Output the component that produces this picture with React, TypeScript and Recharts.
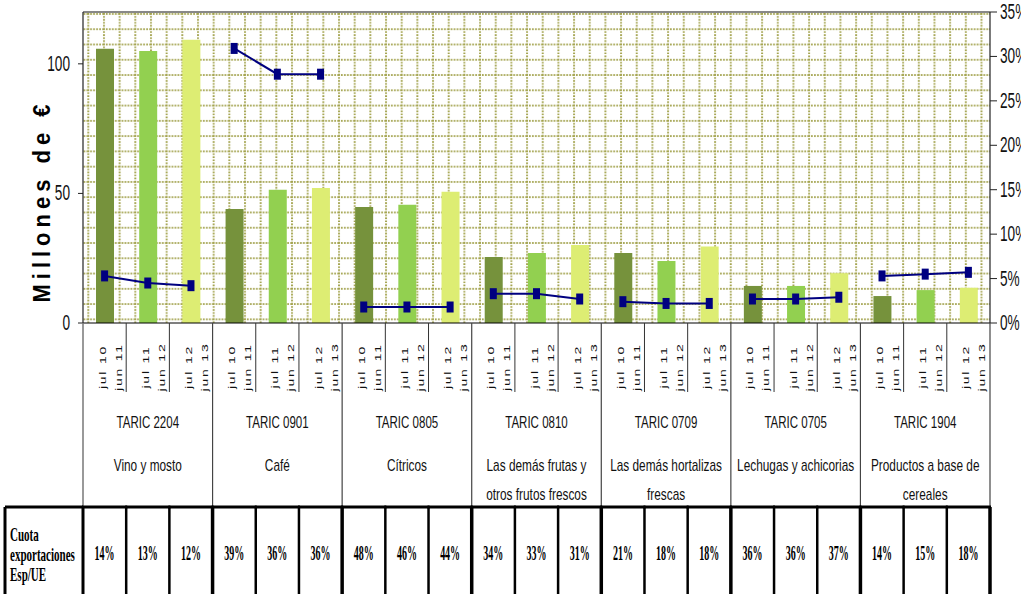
import React from 'react';
import { ComposedChart, Bar, Line, XAxis, YAxis, CartesianGrid, Cell, ReferenceLine } from 'recharts';

// ---------- data ----------
const groupCodes = ['TARIC 2204', 'TARIC 0901', 'TARIC 0805', 'TARIC 0810', 'TARIC 0709', 'TARIC 0705', 'TARIC 1904'];
const groupNames = [
  ['Vino y mosto'],
  ['Café'],
  ['Cítricos'],
  ['Las demás frutas y', 'otros frutos frescos'],
  ['Las demás hortalizas', 'frescas'],
  ['Lechugas y achicorias'],
  ['Productos a base de', 'cereales'],
];
const periodLabels = [
  ['jul 10', 'jun 11'],
  ['jul 11', 'jun 12'],
  ['jul 12', 'jun 13'],
];
// Millones de € (left axis)
const exportValues = [
  105.8, 105.0, 109.3,
  44.0, 51.4, 52.1,
  44.8, 45.6, 50.6,
  25.5, 27.0, 30.1,
  27.0, 23.9, 29.5,
  14.3, 14.3, 19.2,
  10.4, 12.7, 13.6,
];
// share (right axis)
const shareValues = [
  0.053, 0.045, 0.042,
  0.309, 0.28, 0.28,
  0.018, 0.018, 0.018,
  0.033, 0.033, 0.027,
  0.024, 0.022, 0.022,
  0.027, 0.027, 0.029,
  0.053, 0.055, 0.057,
];
const cuotaLabels = [
  '14%', '13%', '12%',
  '39%', '36%', '36%',
  '48%', '46%', '44%',
  '34%', '33%', '31%',
  '21%', '18%', '18%',
  '36%', '36%', '37%',
  '14%', '15%', '18%',
];
const leftTicks = [0, 50, 100];
const rightTicks = [0, 0.05, 0.1, 0.15, 0.2, 0.25, 0.3, 0.35];
const tableRowLabel = ['Cuota', 'exportaciones', 'Esp/UE'];

// ---------- styles / layout ----------
const periodColors = ['#76923C', '#92D050', '#DDED73'];
const lineColor = '#000080';
const SANS = "'Liberation Sans', Arial, sans-serif";
const SERIF = "'Liberation Serif', 'Times New Roman', serif";
const CHART_W = 1021;
const CHART_H = 594;
const PLOT_LEFT = 83;
const PLOT_RIGHT = 990;
const TABLE_DROP = 184;

const data = exportValues.map((v, i) => {
  const g = Math.floor(i / 3);
  const row: any = { key: 'c' + i, group: g, period: i % 3, value: v };
  row['g' + g] = shareValues[i];
  return row;
});

const SText = ({ x, y, sx, anchor = 'middle', children, ...rest }: any) => (
  <g transform={`translate(${x},${y}) scale(${sx},1)`}>
    <text x={0} y={0} textAnchor={anchor} {...rest}>{children}</text>
  </g>
);

const CategoryTick = (props: any) => {
  const { x, y, payload } = props;
  const i: number = payload.index;
  const half = typeof payload.offset === 'number' && payload.offset > 0
    ? payload.offset
    : (PLOT_RIGHT - PLOT_LEFT) / exportValues.length / 2;
  const left = x - half;
  const right = x + half;
  const p = i % 3;
  const g = Math.floor(i / 3);
  const tableTop = y + TABLE_DROP;
  const els: any[] = [];

  periodLabels[p].forEach((t, k) => {
    const tx = x + 1 + k * 16;
    const ty = y + 44;
    els.push(
      <text key={'p' + k} transform={`translate(${tx},${ty}) scale(0.7,1) rotate(-90)`} x={0} y={0}
        textAnchor="middle" fontSize={14} letterSpacing={1.8} fill="#111" fontFamily={SANS}>{t}</text>
    );
  });

  if (p === 2) {
    els.push(<line key="gs" x1={right} y1={y} x2={right} y2={tableTop} stroke="#444" strokeWidth={1.2} />);
  } else {
    els.push(<line key="cs" x1={right} y1={y} x2={right} y2={y + 69} stroke="#333" strokeWidth={1} />);
  }
  if (i === 0) {
    els.push(<line key="ls" x1={left} y1={y} x2={left} y2={tableTop} stroke="#777" strokeWidth={1.5} />);
  }
  if (p === 1) {
    els.push(
      <SText key="code" x={x} y={y + 105} sx={0.72} fontSize={16} fill="#111" fontFamily={SANS}>{groupCodes[g]}</SText>
    );
    groupNames[g].forEach((t, k) => {
      els.push(
        <SText key={'n' + k} x={x} y={y + 148 + k * 29} sx={0.74} fontSize={16} fill="#111" fontFamily={SANS}>{t}</SText>
      );
    });
  }
  // table
  els.push(<line key="tt" x1={left - 1} y1={tableTop} x2={right + 1} y2={tableTop} stroke="#000" strokeWidth={3} />);
  els.push(<line key="tv" x1={right} y1={tableTop} x2={right} y2={CHART_H} stroke="#000" strokeWidth={p === 2 ? 3.5 : 2.5} />);
  els.push(
    <SText key="val" x={x} y={tableTop + 53} sx={0.5} fontSize={20} fontWeight="bold" fill="#000" fontFamily={SERIF}>{cuotaLabels[i]}</SText>
  );
  if (i === 0) {
    const lx = 5;
    els.push(<line key="t0" x1={lx} y1={tableTop} x2={left} y2={tableTop} stroke="#000" strokeWidth={3} />);
    els.push(<line key="v0" x1={lx} y1={tableTop} x2={lx} y2={CHART_H} stroke="#000" strokeWidth={3} />);
    els.push(<line key="v1" x1={left} y1={tableTop} x2={left} y2={CHART_H} stroke="#000" strokeWidth={3} />);
    tableRowLabel.forEach((t, k) => {
      els.push(
        <SText key={'rl' + k} x={lx + 5} y={tableTop + 34 + k * 20} sx={0.58} anchor="start" fontSize={19}
          fontWeight="bold" fill="#000" fontFamily={SERIF}>{t}</SText>
      );
    });
  }
  return <g>{els}</g>;
};

const LeftTick = (props: any) => {
  const { x, y, payload } = props;
  return (
    <SText x={x} y={y + 7} sx={0.62} anchor="end" fontSize={22} fill="#111" fontFamily={SANS}>{payload.value}</SText>
  );
};

const RightTick = (props: any) => {
  const { x, y, payload } = props;
  return (
    <SText x={x} y={y + 7} sx={0.62} anchor="start" fontSize={22} fill="#111" fontFamily={SANS}>
      {Math.round(payload.value * 100) + '%'}
    </SText>
  );
};

const SquareDot = (props: any) => {
  const { cx, cy, value } = props;
  if (cx == null || cy == null || value == null) return <g />;
  return <rect x={cx - 3.5} y={cy - 5.5} width={7} height={11} fill={lineColor} />;
};

const YLabel = () => (
  <text transform="translate(50,201) scale(1.1,1) rotate(-90)" x={0} y={0} textAnchor="middle" fontSize={22}
    fontWeight="bold" letterSpacing={5} fill="#000" fontFamily={SANS}>Millones de €</text>
);

export default function App() {
  return (
    <div style={{ position: 'absolute', left: 0, top: 0, width: CHART_W, height: CHART_H, background: '#fff' }}>
      <ComposedChart width={CHART_W} height={CHART_H} data={data}
        margin={{ top: 12, right: 0, bottom: 0, left: 0 }} barCategoryGap={0}>
        <defs>
          <pattern id="dotgrid" x={87.3} y={13} width={15.67} height={15.27} patternUnits="userSpaceOnUse">
            <rect x={0} y={0} width={15.67} height={15.27} fill="#ffffff" />
            <line x1={0} y1={1} x2={15.67} y2={1} stroke="#a2a24c" strokeWidth={2} strokeDasharray="1.6 1.4" />
            <line x1={1} y1={0} x2={1} y2={15.27} stroke="#a2a24c" strokeWidth={2} strokeDasharray="1.6 1.4" />
          </pattern>
        </defs>
        <CartesianGrid fill="url(#dotgrid)" horizontal={false} vertical={false} yAxisId="left" />
        <XAxis dataKey="key" interval={0} height={CHART_H - 12 - 311} tickLine={false} tickSize={0} tickMargin={0}
          axisLine={{ stroke: '#000', strokeWidth: 1.2 }} tick={<CategoryTick />} />
        <YAxis yAxisId="left" width={PLOT_LEFT} domain={[0, 120]} ticks={leftTicks} tickSize={5} tickMargin={8}
          axisLine={{ stroke: '#222', strokeWidth: 1.2 }} tickLine={{ stroke: '#222' }} tick={<LeftTick />}
          label={{ content: () => <YLabel /> }} />
        <YAxis yAxisId="right" orientation="right" width={CHART_W - PLOT_RIGHT} domain={[0, 0.35]} ticks={rightTicks}
          tickSize={7} tickMargin={3} axisLine={{ stroke: '#222', strokeWidth: 1.2 }} tickLine={{ stroke: '#222' }}
          tick={<RightTick />} />
        <ReferenceLine yAxisId="left" y={120} stroke="#888" strokeWidth={2} />
        <Bar yAxisId="left" dataKey="value" barSize={18} isAnimationActive={false}>
          {data.map((d, i) => (
            <Cell key={i} fill={periodColors[d.period]} />
          ))}
        </Bar>
        {groupCodes.map((_, g) => (
          <Line key={g} yAxisId="right" dataKey={'g' + g} stroke={lineColor} strokeWidth={2}
            dot={<SquareDot />} activeDot={false} connectNulls={false} isAnimationActive={false} />
        ))}
      </ComposedChart>
    </div>
  );
}
